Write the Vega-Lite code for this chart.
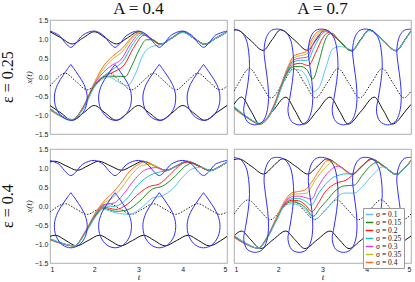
{
"$schema":"https://vega.github.io/schema/vega-lite/v6.json",
"padding":{"left":0,"right":0,"top":0,"bottom":0},
"background":"white",
"data":{"values":[
{"c":0,"r":0,"s":"u","t":1,"x":1.19},{"c":0,"r":0,"s":"u","t":1.25,"x":1.03},{"c":0,"r":0,"s":"u","t":1.5,"x":0.87},{"c":0,"r":0,"s":"u","t":1.75,"x":1.03},{"c":0,"r":0,"s":"u","t":2,"x":1.19},{"c":0,"r":0,"s":"u","t":2.25,"x":1.03},{"c":0,"r":0,"s":"u","t":2.5,"x":0.87},{"c":0,"r":0,"s":"u","t":2.75,"x":1.03},{"c":0,"r":0,"s":"u","t":3,"x":1.19},{"c":0,"r":0,"s":"u","t":3.25,"x":1.03},{"c":0,"r":0,"s":"u","t":3.5,"x":0.87},{"c":0,"r":0,"s":"u","t":3.75,"x":1.03},{"c":0,"r":0,"s":"u","t":4,"x":1.19},{"c":0,"r":0,"s":"u","t":4.25,"x":1.03},{"c":0,"r":0,"s":"u","t":4.5,"x":0.87},{"c":0,"r":0,"s":"u","t":4.75,"x":1.03},{"c":0,"r":0,"s":"u","t":5,"x":1.19},
{"c":0,"r":0,"s":"l","t":1,"x":-0.75},{"c":0,"r":0,"s":"l","t":1.25,"x":-0.95},{"c":0,"r":0,"s":"l","t":1.5,"x":-1.14},{"c":0,"r":0,"s":"l","t":1.75,"x":-0.95},{"c":0,"r":0,"s":"l","t":2,"x":-0.75},{"c":0,"r":0,"s":"l","t":2.25,"x":-0.95},{"c":0,"r":0,"s":"l","t":2.5,"x":-1.14},{"c":0,"r":0,"s":"l","t":2.75,"x":-0.95},{"c":0,"r":0,"s":"l","t":3,"x":-0.75},{"c":0,"r":0,"s":"l","t":3.25,"x":-0.95},{"c":0,"r":0,"s":"l","t":3.5,"x":-1.14},{"c":0,"r":0,"s":"l","t":3.75,"x":-0.95},{"c":0,"r":0,"s":"l","t":4,"x":-0.75},{"c":0,"r":0,"s":"l","t":4.25,"x":-0.95},{"c":0,"r":0,"s":"l","t":4.5,"x":-1.14},{"c":0,"r":0,"s":"l","t":4.75,"x":-0.95},{"c":0,"r":0,"s":"l","t":5,"x":-0.75},
{"c":0,"r":0,"s":"d","t":1,"x":-0.24},{"c":0,"r":0,"s":"d","t":1.09,"x":-0.12},{"c":0,"r":0,"s":"d","t":1.34,"x":0.1},{"c":0,"r":0,"s":"d","t":1.59,"x":-0.12},{"c":0,"r":0,"s":"d","t":1.84,"x":-0.34},{"c":0,"r":0,"s":"d","t":2.09,"x":-0.12},{"c":0,"r":0,"s":"d","t":2.34,"x":0.1},{"c":0,"r":0,"s":"d","t":2.59,"x":-0.12},{"c":0,"r":0,"s":"d","t":2.84,"x":-0.34},{"c":0,"r":0,"s":"d","t":3.09,"x":-0.12},{"c":0,"r":0,"s":"d","t":3.34,"x":0.1},{"c":0,"r":0,"s":"d","t":3.59,"x":-0.12},{"c":0,"r":0,"s":"d","t":3.84,"x":-0.34},{"c":0,"r":0,"s":"d","t":4.09,"x":-0.12},{"c":0,"r":0,"s":"d","t":4.34,"x":0.1},{"c":0,"r":0,"s":"d","t":4.59,"x":-0.12},{"c":0,"r":0,"s":"d","t":4.84,"x":-0.34},{"c":0,"r":0,"s":"d","t":5,"x":-0.24},
{"c":0,"r":0,"s":"b0","i":0,"t":1,"x":1.21},{"c":0,"r":0,"s":"b0","i":1,"t":1.2,"x":1.1},{"c":0,"r":0,"s":"b0","i":2,"t":1.36,"x":0.88},{"c":0,"r":0,"s":"b0","i":3,"t":1.47,"x":0.78},{"c":0,"r":0,"s":"b0","i":4,"t":1.58,"x":0.88},{"c":0,"r":0,"s":"b0","i":5,"t":1.74,"x":1.1},{"c":0,"r":0,"s":"b0","i":6,"t":2,"x":1.21},{"c":0,"r":0,"s":"b0","i":7,"t":2.2,"x":1.1},{"c":0,"r":0,"s":"b0","i":8,"t":2.36,"x":0.88},{"c":0,"r":0,"s":"b0","i":9,"t":2.47,"x":0.78},{"c":0,"r":0,"s":"b0","i":10,"t":2.58,"x":0.88},{"c":0,"r":0,"s":"b0","i":11,"t":2.74,"x":1.1},{"c":0,"r":0,"s":"b0","i":12,"t":3,"x":1.21},{"c":0,"r":0,"s":"b0","i":13,"t":3.2,"x":1.1},{"c":0,"r":0,"s":"b0","i":14,"t":3.36,"x":0.88},{"c":0,"r":0,"s":"b0","i":15,"t":3.47,"x":0.78},{"c":0,"r":0,"s":"b0","i":16,"t":3.58,"x":0.88},{"c":0,"r":0,"s":"b0","i":17,"t":3.74,"x":1.1},{"c":0,"r":0,"s":"b0","i":18,"t":4,"x":1.21},{"c":0,"r":0,"s":"b0","i":19,"t":4.2,"x":1.1},{"c":0,"r":0,"s":"b0","i":20,"t":4.36,"x":0.88},{"c":0,"r":0,"s":"b0","i":21,"t":4.47,"x":0.78},{"c":0,"r":0,"s":"b0","i":22,"t":4.58,"x":0.88},{"c":0,"r":0,"s":"b0","i":23,"t":4.74,"x":1.1},{"c":0,"r":0,"s":"b0","i":24,"t":5,"x":1.21},
{"c":0,"r":0,"s":"b1","i":0,"t":1.47,"x":0.33},{"c":0,"r":0,"s":"b1","i":1,"t":1.54,"x":0.22},{"c":0,"r":0,"s":"b1","i":2,"t":1.64,"x":0.05},{"c":0,"r":0,"s":"b1","i":3,"t":1.77,"x":-0.2},{"c":0,"r":0,"s":"b1","i":4,"t":1.84,"x":-0.5},{"c":0,"r":0,"s":"b1","i":5,"t":1.8,"x":-0.82},{"c":0,"r":0,"s":"b1","i":6,"t":1.65,"x":-1.06},{"c":0,"r":0,"s":"b1","i":7,"t":1.47,"x":-1.14},{"c":0,"r":0,"s":"b1","i":8,"t":1.29,"x":-1.06},{"c":0,"r":0,"s":"b1","i":9,"t":1.14,"x":-0.82},{"c":0,"r":0,"s":"b1","i":10,"t":1.1,"x":-0.5},{"c":0,"r":0,"s":"b1","i":11,"t":1.17,"x":-0.2},{"c":0,"r":0,"s":"b1","i":12,"t":1.3,"x":0.05},{"c":0,"r":0,"s":"b1","i":13,"t":1.4,"x":0.22},{"c":0,"r":0,"s":"b1","i":14,"t":1.47,"x":0.33},
{"c":0,"r":0,"s":"b2","i":0,"t":2.47,"x":0.33},{"c":0,"r":0,"s":"b2","i":1,"t":2.54,"x":0.22},{"c":0,"r":0,"s":"b2","i":2,"t":2.64,"x":0.05},{"c":0,"r":0,"s":"b2","i":3,"t":2.77,"x":-0.2},{"c":0,"r":0,"s":"b2","i":4,"t":2.84,"x":-0.5},{"c":0,"r":0,"s":"b2","i":5,"t":2.8,"x":-0.82},{"c":0,"r":0,"s":"b2","i":6,"t":2.65,"x":-1.06},{"c":0,"r":0,"s":"b2","i":7,"t":2.47,"x":-1.14},{"c":0,"r":0,"s":"b2","i":8,"t":2.29,"x":-1.06},{"c":0,"r":0,"s":"b2","i":9,"t":2.14,"x":-0.82},{"c":0,"r":0,"s":"b2","i":10,"t":2.1,"x":-0.5},{"c":0,"r":0,"s":"b2","i":11,"t":2.17,"x":-0.2},{"c":0,"r":0,"s":"b2","i":12,"t":2.3,"x":0.05},{"c":0,"r":0,"s":"b2","i":13,"t":2.4,"x":0.22},{"c":0,"r":0,"s":"b2","i":14,"t":2.47,"x":0.33},
{"c":0,"r":0,"s":"b3","i":0,"t":3.47,"x":0.33},{"c":0,"r":0,"s":"b3","i":1,"t":3.54,"x":0.22},{"c":0,"r":0,"s":"b3","i":2,"t":3.64,"x":0.05},{"c":0,"r":0,"s":"b3","i":3,"t":3.77,"x":-0.2},{"c":0,"r":0,"s":"b3","i":4,"t":3.84,"x":-0.5},{"c":0,"r":0,"s":"b3","i":5,"t":3.8,"x":-0.82},{"c":0,"r":0,"s":"b3","i":6,"t":3.65,"x":-1.06},{"c":0,"r":0,"s":"b3","i":7,"t":3.47,"x":-1.14},{"c":0,"r":0,"s":"b3","i":8,"t":3.29,"x":-1.06},{"c":0,"r":0,"s":"b3","i":9,"t":3.14,"x":-0.82},{"c":0,"r":0,"s":"b3","i":10,"t":3.1,"x":-0.5},{"c":0,"r":0,"s":"b3","i":11,"t":3.17,"x":-0.2},{"c":0,"r":0,"s":"b3","i":12,"t":3.3,"x":0.05},{"c":0,"r":0,"s":"b3","i":13,"t":3.4,"x":0.22},{"c":0,"r":0,"s":"b3","i":14,"t":3.47,"x":0.33},
{"c":0,"r":0,"s":"b4","i":0,"t":4.47,"x":0.33},{"c":0,"r":0,"s":"b4","i":1,"t":4.54,"x":0.22},{"c":0,"r":0,"s":"b4","i":2,"t":4.64,"x":0.05},{"c":0,"r":0,"s":"b4","i":3,"t":4.77,"x":-0.2},{"c":0,"r":0,"s":"b4","i":4,"t":4.84,"x":-0.5},{"c":0,"r":0,"s":"b4","i":5,"t":4.8,"x":-0.82},{"c":0,"r":0,"s":"b4","i":6,"t":4.65,"x":-1.06},{"c":0,"r":0,"s":"b4","i":7,"t":4.47,"x":-1.14},{"c":0,"r":0,"s":"b4","i":8,"t":4.29,"x":-1.06},{"c":0,"r":0,"s":"b4","i":9,"t":4.14,"x":-0.82},{"c":0,"r":0,"s":"b4","i":10,"t":4.1,"x":-0.5},{"c":0,"r":0,"s":"b4","i":11,"t":4.17,"x":-0.2},{"c":0,"r":0,"s":"b4","i":12,"t":4.3,"x":0.05},{"c":0,"r":0,"s":"b4","i":13,"t":4.4,"x":0.22},{"c":0,"r":0,"s":"b4","i":14,"t":4.47,"x":0.33},
{"c":0,"r":0,"s":"0.4","t":1,"x":-0.87},{"c":0,"r":0,"s":"0.4","t":1.25,"x":-1.04},{"c":0,"r":0,"s":"0.4","t":1.5,"x":-1.13},{"c":0,"r":0,"s":"0.4","t":1.75,"x":-0.78},{"c":0,"r":0,"s":"0.4","t":2,"x":-0.15},{"c":0,"r":0,"s":"0.4","t":2.23,"x":0.32},{"c":0,"r":0,"s":"0.4","t":2.41,"x":0.54},{"c":0,"r":0,"s":"0.4","t":2.64,"x":0.76},{"c":0,"r":0,"s":"0.4","t":2.83,"x":1.02},{"c":0,"r":0,"s":"0.4","t":3.02,"x":1.17},{"c":0,"r":0,"s":"0.4","t":3.25,"x":1.02},{"c":0,"r":0,"s":"0.4","t":3.5,"x":0.86},{"c":0,"r":0,"s":"0.4","t":3.75,"x":1.02},{"c":0,"r":0,"s":"0.4","t":4,"x":1.18},{"c":0,"r":0,"s":"0.4","t":4.25,"x":1.02},{"c":0,"r":0,"s":"0.4","t":4.5,"x":0.86},{"c":0,"r":0,"s":"0.4","t":4.75,"x":1.02},{"c":0,"r":0,"s":"0.4","t":5,"x":1.18},
{"c":0,"r":0,"s":"0.35","t":1,"x":-0.86},{"c":0,"r":0,"s":"0.35","t":1.25,"x":-1.04},{"c":0,"r":0,"s":"0.35","t":1.5,"x":-1.13},{"c":0,"r":0,"s":"0.35","t":1.75,"x":-0.79},{"c":0,"r":0,"s":"0.35","t":2,"x":-0.17},{"c":0,"r":0,"s":"0.35","t":2.25,"x":0.27},{"c":0,"r":0,"s":"0.35","t":2.41,"x":0.47},{"c":0,"r":0,"s":"0.35","t":2.64,"x":0.67},{"c":0,"r":0,"s":"0.35","t":2.86,"x":1.03},{"c":0,"r":0,"s":"0.35","t":3.05,"x":1.17},{"c":0,"r":0,"s":"0.35","t":3.25,"x":1.03},{"c":0,"r":0,"s":"0.35","t":3.5,"x":0.86},{"c":0,"r":0,"s":"0.35","t":3.75,"x":1.02},{"c":0,"r":0,"s":"0.35","t":4,"x":1.18},{"c":0,"r":0,"s":"0.35","t":4.25,"x":1.02},{"c":0,"r":0,"s":"0.35","t":4.5,"x":0.86},{"c":0,"r":0,"s":"0.35","t":4.75,"x":1.02},{"c":0,"r":0,"s":"0.35","t":5,"x":1.18},
{"c":0,"r":0,"s":"0.3","t":1,"x":-0.85},{"c":0,"r":0,"s":"0.3","t":1.25,"x":-1.03},{"c":0,"r":0,"s":"0.3","t":1.5,"x":-1.13},{"c":0,"r":0,"s":"0.3","t":1.75,"x":-0.8},{"c":0,"r":0,"s":"0.3","t":2,"x":-0.19},{"c":0,"r":0,"s":"0.3","t":2.26,"x":0.18},{"c":0,"r":0,"s":"0.3","t":2.41,"x":0.32},{"c":0,"r":0,"s":"0.3","t":2.6,"x":0.45},{"c":0,"r":0,"s":"0.3","t":2.83,"x":0.89},{"c":0,"r":0,"s":"0.3","t":3.05,"x":1.15},{"c":0,"r":0,"s":"0.3","t":3.25,"x":1.03},{"c":0,"r":0,"s":"0.3","t":3.5,"x":0.86},{"c":0,"r":0,"s":"0.3","t":3.75,"x":1.02},{"c":0,"r":0,"s":"0.3","t":4,"x":1.18},{"c":0,"r":0,"s":"0.3","t":4.25,"x":1.02},{"c":0,"r":0,"s":"0.3","t":4.5,"x":0.86},{"c":0,"r":0,"s":"0.3","t":4.75,"x":1.02},{"c":0,"r":0,"s":"0.3","t":5,"x":1.18},
{"c":0,"r":0,"s":"0.25","t":1,"x":-0.84},{"c":0,"r":0,"s":"0.25","t":1.25,"x":-1.03},{"c":0,"r":0,"s":"0.25","t":1.5,"x":-1.13},{"c":0,"r":0,"s":"0.25","t":1.75,"x":-0.81},{"c":0,"r":0,"s":"0.25","t":2,"x":-0.21},{"c":0,"r":0,"s":"0.25","t":2.3,"x":0.1},{"c":0,"r":0,"s":"0.25","t":2.45,"x":0.23},{"c":0,"r":0,"s":"0.25","t":2.64,"x":0.4},{"c":0,"r":0,"s":"0.25","t":2.86,"x":0.84},{"c":0,"r":0,"s":"0.25","t":3.09,"x":1.13},{"c":0,"r":0,"s":"0.25","t":3.25,"x":1.03},{"c":0,"r":0,"s":"0.25","t":3.5,"x":0.86},{"c":0,"r":0,"s":"0.25","t":3.75,"x":1.02},{"c":0,"r":0,"s":"0.25","t":4,"x":1.18},{"c":0,"r":0,"s":"0.25","t":4.25,"x":1.02},{"c":0,"r":0,"s":"0.25","t":4.5,"x":0.86},{"c":0,"r":0,"s":"0.25","t":4.75,"x":1.02},{"c":0,"r":0,"s":"0.25","t":5,"x":1.18},
{"c":0,"r":0,"s":"0.2","t":1,"x":-0.83},{"c":0,"r":0,"s":"0.2","t":1.25,"x":-1.02},{"c":0,"r":0,"s":"0.2","t":1.5,"x":-1.12},{"c":0,"r":0,"s":"0.2","t":1.75,"x":-0.82},{"c":0,"r":0,"s":"0.2","t":2,"x":-0.23},{"c":0,"r":0,"s":"0.2","t":2.3,"x":0.06},{"c":0,"r":0,"s":"0.2","t":2.49,"x":0.16},{"c":0,"r":0,"s":"0.2","t":2.68,"x":0.32},{"c":0,"r":0,"s":"0.2","t":2.88,"x":0.75},{"c":0,"r":0,"s":"0.2","t":3.13,"x":1.1},{"c":0,"r":0,"s":"0.2","t":3.3,"x":1.0},{"c":0,"r":0,"s":"0.2","t":3.5,"x":0.86},{"c":0,"r":0,"s":"0.2","t":3.75,"x":1.02},{"c":0,"r":0,"s":"0.2","t":4,"x":1.18},{"c":0,"r":0,"s":"0.2","t":4.25,"x":1.02},{"c":0,"r":0,"s":"0.2","t":4.5,"x":0.86},{"c":0,"r":0,"s":"0.2","t":4.75,"x":1.02},{"c":0,"r":0,"s":"0.2","t":5,"x":1.18},
{"c":0,"r":0,"s":"0.15","t":1,"x":-0.83},{"c":0,"r":0,"s":"0.15","t":1.25,"x":-1.02},{"c":0,"r":0,"s":"0.15","t":1.5,"x":-1.12},{"c":0,"r":0,"s":"0.15","t":1.75,"x":-0.83},{"c":0,"r":0,"s":"0.15","t":2,"x":-0.25},{"c":0,"r":0,"s":"0.15","t":2.3,"x":0.02},{"c":0,"r":0,"s":"0.15","t":2.5,"x":0.02},{"c":0,"r":0,"s":"0.15","t":2.7,"x":0.01},{"c":0,"r":0,"s":"0.15","t":2.85,"x":0.3},{"c":0,"r":0,"s":"0.15","t":3.03,"x":0.75},{"c":0,"r":0,"s":"0.15","t":3.18,"x":0.98},{"c":0,"r":0,"s":"0.15","t":3.32,"x":0.98},{"c":0,"r":0,"s":"0.15","t":3.5,"x":0.86},{"c":0,"r":0,"s":"0.15","t":3.75,"x":1.02},{"c":0,"r":0,"s":"0.15","t":4,"x":1.18},{"c":0,"r":0,"s":"0.15","t":4.25,"x":1.02},{"c":0,"r":0,"s":"0.15","t":4.5,"x":0.86},{"c":0,"r":0,"s":"0.15","t":4.75,"x":1.02},{"c":0,"r":0,"s":"0.15","t":5,"x":1.18},
{"c":0,"r":0,"s":"0.1","t":1,"x":-0.82},{"c":0,"r":0,"s":"0.1","t":1.25,"x":-1.02},{"c":0,"r":0,"s":"0.1","t":1.5,"x":-1.12},{"c":0,"r":0,"s":"0.1","t":1.75,"x":-0.84},{"c":0,"r":0,"s":"0.1","t":2,"x":-0.28},{"c":0,"r":0,"s":"0.1","t":2.34,"x":0.0},{"c":0,"r":0,"s":"0.1","t":2.53,"x":-0.12},{"c":0,"r":0,"s":"0.1","t":2.75,"x":-0.23},{"c":0,"r":0,"s":"0.1","t":2.92,"x":0.05},{"c":0,"r":0,"s":"0.1","t":3.1,"x":0.58},{"c":0,"r":0,"s":"0.1","t":3.3,"x":0.8},{"c":0,"r":0,"s":"0.1","t":3.5,"x":0.85},{"c":0,"r":0,"s":"0.1","t":3.75,"x":1.01},{"c":0,"r":0,"s":"0.1","t":4,"x":1.17},{"c":0,"r":0,"s":"0.1","t":4.25,"x":1.02},{"c":0,"r":0,"s":"0.1","t":4.5,"x":0.86},{"c":0,"r":0,"s":"0.1","t":4.75,"x":1.02},{"c":0,"r":0,"s":"0.1","t":5,"x":1.18},

{"c":1,"r":0,"s":"u","t":1,"x":1.23},{"c":1,"r":0,"s":"u","t":1.05,"x":1.24},{"c":1,"r":0,"s":"u","t":1.36,"x":0.98},{"c":1,"r":0,"s":"u","t":1.66,"x":0.7},{"c":1,"r":0,"s":"u","t":1.86,"x":0.98},{"c":1,"r":0,"s":"u","t":2.05,"x":1.24},{"c":1,"r":0,"s":"u","t":2.36,"x":0.98},{"c":1,"r":0,"s":"u","t":2.66,"x":0.7},{"c":1,"r":0,"s":"u","t":2.86,"x":0.98},{"c":1,"r":0,"s":"u","t":3.05,"x":1.24},{"c":1,"r":0,"s":"u","t":3.36,"x":0.98},{"c":1,"r":0,"s":"u","t":3.66,"x":0.7},{"c":1,"r":0,"s":"u","t":3.86,"x":0.98},{"c":1,"r":0,"s":"u","t":4.05,"x":1.24},{"c":1,"r":0,"s":"u","t":4.36,"x":0.98},{"c":1,"r":0,"s":"u","t":4.66,"x":0.7},{"c":1,"r":0,"s":"u","t":4.86,"x":0.98},{"c":1,"r":0,"s":"u","t":5,"x":1.22},
{"c":1,"r":0,"s":"l","t":1,"x":-0.72},{"c":1,"r":0,"s":"l","t":1.17,"x":-0.53},{"c":1,"r":0,"s":"l","t":1.38,"x":-0.89},{"c":1,"r":0,"s":"l","t":1.58,"x":-1.24},{"c":1,"r":0,"s":"l","t":1.88,"x":-0.89},{"c":1,"r":0,"s":"l","t":2.17,"x":-0.53},{"c":1,"r":0,"s":"l","t":2.38,"x":-0.89},{"c":1,"r":0,"s":"l","t":2.58,"x":-1.24},{"c":1,"r":0,"s":"l","t":2.88,"x":-0.89},{"c":1,"r":0,"s":"l","t":3.17,"x":-0.53},{"c":1,"r":0,"s":"l","t":3.38,"x":-0.89},{"c":1,"r":0,"s":"l","t":3.58,"x":-1.24},{"c":1,"r":0,"s":"l","t":3.88,"x":-0.89},{"c":1,"r":0,"s":"l","t":4.17,"x":-0.53},{"c":1,"r":0,"s":"l","t":4.38,"x":-0.89},{"c":1,"r":0,"s":"l","t":4.58,"x":-1.24},{"c":1,"r":0,"s":"l","t":4.88,"x":-0.89},{"c":1,"r":0,"s":"l","t":5,"x":-0.72},
{"c":1,"r":0,"s":"d","t":1,"x":-0.37},{"c":1,"r":0,"s":"d","t":1.1,"x":-0.17},{"c":1,"r":0,"s":"d","t":1.35,"x":0.22},{"c":1,"r":0,"s":"d","t":1.6,"x":-0.17},{"c":1,"r":0,"s":"d","t":1.84,"x":-0.55},{"c":1,"r":0,"s":"d","t":2.1,"x":-0.17},{"c":1,"r":0,"s":"d","t":2.35,"x":0.22},{"c":1,"r":0,"s":"d","t":2.6,"x":-0.17},{"c":1,"r":0,"s":"d","t":2.84,"x":-0.55},{"c":1,"r":0,"s":"d","t":3.1,"x":-0.17},{"c":1,"r":0,"s":"d","t":3.35,"x":0.22},{"c":1,"r":0,"s":"d","t":3.6,"x":-0.17},{"c":1,"r":0,"s":"d","t":3.84,"x":-0.55},{"c":1,"r":0,"s":"d","t":4.1,"x":-0.17},{"c":1,"r":0,"s":"d","t":4.35,"x":0.22},{"c":1,"r":0,"s":"d","t":4.6,"x":-0.17},{"c":1,"r":0,"s":"d","t":4.84,"x":-0.55},{"c":1,"r":0,"s":"d","t":5,"x":-0.37},
{"c":1,"r":0,"s":"b0","i":0,"t":1,"x":1.26},{"c":1,"r":0,"s":"b0","i":1,"t":1.15,"x":1.2},{"c":1,"r":0,"s":"b0","i":2,"t":1.27,"x":1.0},{"c":1,"r":0,"s":"b0","i":3,"t":1.33,"x":0.68},{"c":1,"r":0,"s":"b0","i":4,"t":1.35,"x":0.3},{"c":1,"r":0,"s":"b0","i":5,"t":1.32,"x":-0.12},{"c":1,"r":0,"s":"b0","i":6,"t":1.26,"x":-0.56},{"c":1,"r":0,"s":"b0","i":7,"t":1.22,"x":-0.9},{"c":1,"r":0,"s":"b0","i":8,"t":1.3,"x":-1.17},{"c":1,"r":0,"s":"b0","i":9,"t":1.47,"x":-1.26},{"c":1,"r":0,"s":"b0","i":10,"t":1.64,"x":-1.18},{"c":1,"r":0,"s":"b0","i":11,"t":1.74,"x":-0.94},{"c":1,"r":0,"s":"b0","i":12,"t":1.78,"x":-0.56},{"c":1,"r":0,"s":"b0","i":13,"t":1.76,"x":-0.12},{"c":1,"r":0,"s":"b0","i":14,"t":1.71,"x":0.32},{"c":1,"r":0,"s":"b0","i":15,"t":1.68,"x":0.72},{"c":1,"r":0,"s":"b0","i":16,"t":1.74,"x":1.07},{"c":1,"r":0,"s":"b0","i":17,"t":1.85,"x":1.23},
{"c":1,"r":0,"s":"b0","i":18,"t":2,"x":1.26},{"c":1,"r":0,"s":"b0","i":19,"t":2.15,"x":1.2},{"c":1,"r":0,"s":"b0","i":20,"t":2.27,"x":1.0},{"c":1,"r":0,"s":"b0","i":21,"t":2.33,"x":0.68},{"c":1,"r":0,"s":"b0","i":22,"t":2.35,"x":0.3},{"c":1,"r":0,"s":"b0","i":23,"t":2.32,"x":-0.12},{"c":1,"r":0,"s":"b0","i":24,"t":2.26,"x":-0.56},{"c":1,"r":0,"s":"b0","i":25,"t":2.22,"x":-0.9},{"c":1,"r":0,"s":"b0","i":26,"t":2.3,"x":-1.17},{"c":1,"r":0,"s":"b0","i":27,"t":2.47,"x":-1.26},{"c":1,"r":0,"s":"b0","i":28,"t":2.64,"x":-1.18},{"c":1,"r":0,"s":"b0","i":29,"t":2.74,"x":-0.94},{"c":1,"r":0,"s":"b0","i":30,"t":2.78,"x":-0.56},{"c":1,"r":0,"s":"b0","i":31,"t":2.76,"x":-0.12},{"c":1,"r":0,"s":"b0","i":32,"t":2.71,"x":0.32},{"c":1,"r":0,"s":"b0","i":33,"t":2.68,"x":0.72},{"c":1,"r":0,"s":"b0","i":34,"t":2.74,"x":1.07},{"c":1,"r":0,"s":"b0","i":35,"t":2.85,"x":1.23},
{"c":1,"r":0,"s":"b0","i":36,"t":3,"x":1.26},{"c":1,"r":0,"s":"b0","i":37,"t":3.15,"x":1.2},{"c":1,"r":0,"s":"b0","i":38,"t":3.27,"x":1.0},{"c":1,"r":0,"s":"b0","i":39,"t":3.33,"x":0.68},{"c":1,"r":0,"s":"b0","i":40,"t":3.35,"x":0.3},{"c":1,"r":0,"s":"b0","i":41,"t":3.32,"x":-0.12},{"c":1,"r":0,"s":"b0","i":42,"t":3.26,"x":-0.56},{"c":1,"r":0,"s":"b0","i":43,"t":3.22,"x":-0.9},{"c":1,"r":0,"s":"b0","i":44,"t":3.3,"x":-1.17},{"c":1,"r":0,"s":"b0","i":45,"t":3.47,"x":-1.26},{"c":1,"r":0,"s":"b0","i":46,"t":3.64,"x":-1.18},{"c":1,"r":0,"s":"b0","i":47,"t":3.74,"x":-0.94},{"c":1,"r":0,"s":"b0","i":48,"t":3.78,"x":-0.56},{"c":1,"r":0,"s":"b0","i":49,"t":3.76,"x":-0.12},{"c":1,"r":0,"s":"b0","i":50,"t":3.71,"x":0.32},{"c":1,"r":0,"s":"b0","i":51,"t":3.68,"x":0.72},{"c":1,"r":0,"s":"b0","i":52,"t":3.74,"x":1.07},{"c":1,"r":0,"s":"b0","i":53,"t":3.85,"x":1.23},
{"c":1,"r":0,"s":"b0","i":54,"t":4,"x":1.26},{"c":1,"r":0,"s":"b0","i":55,"t":4.15,"x":1.2},{"c":1,"r":0,"s":"b0","i":56,"t":4.27,"x":1.0},{"c":1,"r":0,"s":"b0","i":57,"t":4.33,"x":0.68},{"c":1,"r":0,"s":"b0","i":58,"t":4.35,"x":0.3},{"c":1,"r":0,"s":"b0","i":59,"t":4.32,"x":-0.12},{"c":1,"r":0,"s":"b0","i":60,"t":4.26,"x":-0.56},{"c":1,"r":0,"s":"b0","i":61,"t":4.22,"x":-0.9},{"c":1,"r":0,"s":"b0","i":62,"t":4.3,"x":-1.17},{"c":1,"r":0,"s":"b0","i":63,"t":4.47,"x":-1.26},{"c":1,"r":0,"s":"b0","i":64,"t":4.64,"x":-1.18},{"c":1,"r":0,"s":"b0","i":65,"t":4.74,"x":-0.94},{"c":1,"r":0,"s":"b0","i":66,"t":4.78,"x":-0.56},{"c":1,"r":0,"s":"b0","i":67,"t":4.76,"x":-0.12},{"c":1,"r":0,"s":"b0","i":68,"t":4.71,"x":0.32},{"c":1,"r":0,"s":"b0","i":69,"t":4.68,"x":0.72},{"c":1,"r":0,"s":"b0","i":70,"t":4.74,"x":1.07},{"c":1,"r":0,"s":"b0","i":71,"t":4.85,"x":1.23},{"c":1,"r":0,"s":"b0","i":72,"t":5,"x":1.26},
{"c":1,"r":0,"s":"0.4","t":1,"x":-0.84},{"c":1,"r":0,"s":"0.4","t":1.29,"x":-1.07},{"c":1,"r":0,"s":"0.4","t":1.59,"x":-1.24},{"c":1,"r":0,"s":"0.4","t":1.78,"x":-1.02},{"c":1,"r":0,"s":"0.4","t":1.93,"x":-0.65},{"c":1,"r":0,"s":"0.4","t":2.08,"x":-0.15},{"c":1,"r":0,"s":"0.4","t":2.23,"x":0.3},{"c":1,"r":0,"s":"0.4","t":2.35,"x":0.55},{"c":1,"r":0,"s":"0.4","t":2.5,"x":0.62},{"c":1,"r":0,"s":"0.4","t":2.62,"x":0.66},{"c":1,"r":0,"s":"0.4","t":2.75,"x":0.98},{"c":1,"r":0,"s":"0.4","t":2.88,"x":1.18},{"c":1,"r":0,"s":"0.4","t":3.02,"x":1.24},{"c":1,"r":0,"s":"0.4","t":3.36,"x":0.97},{"c":1,"r":0,"s":"0.4","t":3.66,"x":0.69},{"c":1,"r":0,"s":"0.4","t":3.86,"x":0.97},{"c":1,"r":0,"s":"0.4","t":4.05,"x":1.23},{"c":1,"r":0,"s":"0.4","t":4.36,"x":0.97},{"c":1,"r":0,"s":"0.4","t":4.66,"x":0.69},{"c":1,"r":0,"s":"0.4","t":4.86,"x":0.97},{"c":1,"r":0,"s":"0.4","t":5,"x":1.21},
{"c":1,"r":0,"s":"0.35","t":1,"x":-0.82},{"c":1,"r":0,"s":"0.35","t":1.29,"x":-1.07},{"c":1,"r":0,"s":"0.35","t":1.59,"x":-1.24},{"c":1,"r":0,"s":"0.35","t":1.78,"x":-1.03},{"c":1,"r":0,"s":"0.35","t":1.93,"x":-0.67},{"c":1,"r":0,"s":"0.35","t":2.08,"x":-0.17},{"c":1,"r":0,"s":"0.35","t":2.23,"x":0.27},{"c":1,"r":0,"s":"0.35","t":2.35,"x":0.5},{"c":1,"r":0,"s":"0.35","t":2.5,"x":0.56},{"c":1,"r":0,"s":"0.35","t":2.64,"x":0.6},{"c":1,"r":0,"s":"0.35","t":2.78,"x":0.96},{"c":1,"r":0,"s":"0.35","t":2.92,"x":1.17},{"c":1,"r":0,"s":"0.35","t":3.05,"x":1.23},{"c":1,"r":0,"s":"0.35","t":3.36,"x":0.97},{"c":1,"r":0,"s":"0.35","t":3.66,"x":0.69},{"c":1,"r":0,"s":"0.35","t":3.86,"x":0.97},{"c":1,"r":0,"s":"0.35","t":4.05,"x":1.23},{"c":1,"r":0,"s":"0.35","t":4.36,"x":0.97},{"c":1,"r":0,"s":"0.35","t":4.66,"x":0.69},{"c":1,"r":0,"s":"0.35","t":4.86,"x":0.97},{"c":1,"r":0,"s":"0.35","t":5,"x":1.21},
{"c":1,"r":0,"s":"0.3","t":1,"x":-0.81},{"c":1,"r":0,"s":"0.3","t":1.29,"x":-1.06},{"c":1,"r":0,"s":"0.3","t":1.59,"x":-1.23},{"c":1,"r":0,"s":"0.3","t":1.78,"x":-1.04},{"c":1,"r":0,"s":"0.3","t":1.93,"x":-0.69},{"c":1,"r":0,"s":"0.3","t":2.08,"x":-0.19},{"c":1,"r":0,"s":"0.3","t":2.23,"x":0.24},{"c":1,"r":0,"s":"0.3","t":2.35,"x":0.45},{"c":1,"r":0,"s":"0.3","t":2.5,"x":0.5},{"c":1,"r":0,"s":"0.3","t":2.65,"x":0.52},{"c":1,"r":0,"s":"0.3","t":2.8,"x":0.9},{"c":1,"r":0,"s":"0.3","t":2.95,"x":1.15},{"c":1,"r":0,"s":"0.3","t":3.07,"x":1.21},{"c":1,"r":0,"s":"0.3","t":3.36,"x":0.97},{"c":1,"r":0,"s":"0.3","t":3.66,"x":0.69},{"c":1,"r":0,"s":"0.3","t":3.86,"x":0.97},{"c":1,"r":0,"s":"0.3","t":4.05,"x":1.23},{"c":1,"r":0,"s":"0.3","t":4.36,"x":0.97},{"c":1,"r":0,"s":"0.3","t":4.66,"x":0.69},{"c":1,"r":0,"s":"0.3","t":4.86,"x":0.97},{"c":1,"r":0,"s":"0.3","t":5,"x":1.21},
{"c":1,"r":0,"s":"0.25","t":1,"x":-0.8},{"c":1,"r":0,"s":"0.25","t":1.29,"x":-1.06},{"c":1,"r":0,"s":"0.25","t":1.59,"x":-1.23},{"c":1,"r":0,"s":"0.25","t":1.78,"x":-1.05},{"c":1,"r":0,"s":"0.25","t":1.93,"x":-0.7},{"c":1,"r":0,"s":"0.25","t":2.08,"x":-0.2},{"c":1,"r":0,"s":"0.25","t":2.23,"x":0.21},{"c":1,"r":0,"s":"0.25","t":2.35,"x":0.4},{"c":1,"r":0,"s":"0.25","t":2.5,"x":0.44},{"c":1,"r":0,"s":"0.25","t":2.66,"x":0.44},{"c":1,"r":0,"s":"0.25","t":2.82,"x":0.8},{"c":1,"r":0,"s":"0.25","t":2.98,"x":1.12},{"c":1,"r":0,"s":"0.25","t":3.1,"x":1.2},{"c":1,"r":0,"s":"0.25","t":3.36,"x":0.97},{"c":1,"r":0,"s":"0.25","t":3.66,"x":0.69},{"c":1,"r":0,"s":"0.25","t":3.86,"x":0.97},{"c":1,"r":0,"s":"0.25","t":4.05,"x":1.23},{"c":1,"r":0,"s":"0.25","t":4.36,"x":0.97},{"c":1,"r":0,"s":"0.25","t":4.66,"x":0.69},{"c":1,"r":0,"s":"0.25","t":4.86,"x":0.97},{"c":1,"r":0,"s":"0.25","t":5,"x":1.21},
{"c":1,"r":0,"s":"0.2","t":1,"x":-0.79},{"c":1,"r":0,"s":"0.2","t":1.29,"x":-1.05},{"c":1,"r":0,"s":"0.2","t":1.59,"x":-1.23},{"c":1,"r":0,"s":"0.2","t":1.78,"x":-1.05},{"c":1,"r":0,"s":"0.2","t":1.93,"x":-0.71},{"c":1,"r":0,"s":"0.2","t":2.08,"x":-0.22},{"c":1,"r":0,"s":"0.2","t":2.23,"x":0.18},{"c":1,"r":0,"s":"0.2","t":2.35,"x":0.33},{"c":1,"r":0,"s":"0.2","t":2.5,"x":0.36},{"c":1,"r":0,"s":"0.2","t":2.68,"x":0.3},{"c":1,"r":0,"s":"0.2","t":2.85,"x":0.65},{"c":1,"r":0,"s":"0.2","t":3,"x":1.02},{"c":1,"r":0,"s":"0.2","t":3.13,"x":1.17},{"c":1,"r":0,"s":"0.2","t":3.36,"x":0.97},{"c":1,"r":0,"s":"0.2","t":3.66,"x":0.69},{"c":1,"r":0,"s":"0.2","t":3.86,"x":0.97},{"c":1,"r":0,"s":"0.2","t":4.05,"x":1.23},{"c":1,"r":0,"s":"0.2","t":4.36,"x":0.97},{"c":1,"r":0,"s":"0.2","t":4.66,"x":0.69},{"c":1,"r":0,"s":"0.2","t":4.86,"x":0.97},{"c":1,"r":0,"s":"0.2","t":5,"x":1.21},
{"c":1,"r":0,"s":"0.15","t":1,"x":-0.78},{"c":1,"r":0,"s":"0.15","t":1.29,"x":-1.05},{"c":1,"r":0,"s":"0.15","t":1.59,"x":-1.22},{"c":1,"r":0,"s":"0.15","t":1.78,"x":-1.06},{"c":1,"r":0,"s":"0.15","t":1.93,"x":-0.72},{"c":1,"r":0,"s":"0.15","t":2.08,"x":-0.24},{"c":1,"r":0,"s":"0.15","t":2.23,"x":0.15},{"c":1,"r":0,"s":"0.15","t":2.35,"x":0.27},{"c":1,"r":0,"s":"0.15","t":2.5,"x":0.28},{"c":1,"r":0,"s":"0.15","t":2.64,"x":0.2},{"c":1,"r":0,"s":"0.15","t":2.78,"x":-0.05},{"c":1,"r":0,"s":"0.15","t":2.93,"x":0.44},{"c":1,"r":0,"s":"0.15","t":3.02,"x":0.83},{"c":1,"r":0,"s":"0.15","t":3.12,"x":1.1},{"c":1,"r":0,"s":"0.15","t":3.22,"x":1.15},{"c":1,"r":0,"s":"0.15","t":3.36,"x":0.97},{"c":1,"r":0,"s":"0.15","t":3.66,"x":0.69},{"c":1,"r":0,"s":"0.15","t":3.86,"x":0.97},{"c":1,"r":0,"s":"0.15","t":4.05,"x":1.23},{"c":1,"r":0,"s":"0.15","t":4.36,"x":0.97},{"c":1,"r":0,"s":"0.15","t":4.66,"x":0.69},{"c":1,"r":0,"s":"0.15","t":4.86,"x":0.97},{"c":1,"r":0,"s":"0.15","t":5,"x":1.21},
{"c":1,"r":0,"s":"0.1","t":1,"x":-0.77},{"c":1,"r":0,"s":"0.1","t":1.29,"x":-1.04},{"c":1,"r":0,"s":"0.1","t":1.59,"x":-1.22},{"c":1,"r":0,"s":"0.1","t":1.78,"x":-1.06},{"c":1,"r":0,"s":"0.1","t":1.93,"x":-0.73},{"c":1,"r":0,"s":"0.1","t":2.08,"x":-0.26},{"c":1,"r":0,"s":"0.1","t":2.23,"x":0.12},{"c":1,"r":0,"s":"0.1","t":2.35,"x":0.2},{"c":1,"r":0,"s":"0.1","t":2.5,"x":0.18},{"c":1,"r":0,"s":"0.1","t":2.64,"x":0.0},{"c":1,"r":0,"s":"0.1","t":2.79,"x":-0.39},{"c":1,"r":0,"s":"0.1","t":2.93,"x":-0.26},{"c":1,"r":0,"s":"0.1","t":3.08,"x":0.26},{"c":1,"r":0,"s":"0.1","t":3.23,"x":0.74},{"c":1,"r":0,"s":"0.1","t":3.4,"x":0.8},{"c":1,"r":0,"s":"0.1","t":3.55,"x":0.76},{"c":1,"r":0,"s":"0.1","t":3.68,"x":0.71},{"c":1,"r":0,"s":"0.1","t":3.86,"x":0.96},{"c":1,"r":0,"s":"0.1","t":4.05,"x":1.22},{"c":1,"r":0,"s":"0.1","t":4.36,"x":0.97},{"c":1,"r":0,"s":"0.1","t":4.66,"x":0.69},{"c":1,"r":0,"s":"0.1","t":4.86,"x":0.97},{"c":1,"r":0,"s":"0.1","t":5,"x":1.2},

{"c":0,"r":1,"s":"u","t":1,"x":1.16},{"c":0,"r":1,"s":"u","t":1.1,"x":1.18},{"c":0,"r":1,"s":"u","t":1.36,"x":1.06},{"c":0,"r":1,"s":"u","t":1.62,"x":0.94},{"c":0,"r":1,"s":"u","t":1.86,"x":1.06},{"c":0,"r":1,"s":"u","t":2.1,"x":1.18},{"c":0,"r":1,"s":"u","t":2.36,"x":1.06},{"c":0,"r":1,"s":"u","t":2.62,"x":0.94},{"c":0,"r":1,"s":"u","t":2.86,"x":1.06},{"c":0,"r":1,"s":"u","t":3.1,"x":1.18},{"c":0,"r":1,"s":"u","t":3.36,"x":1.06},{"c":0,"r":1,"s":"u","t":3.62,"x":0.94},{"c":0,"r":1,"s":"u","t":3.86,"x":1.06},{"c":0,"r":1,"s":"u","t":4.1,"x":1.18},{"c":0,"r":1,"s":"u","t":4.36,"x":1.06},{"c":0,"r":1,"s":"u","t":4.62,"x":0.94},{"c":0,"r":1,"s":"u","t":4.86,"x":1.06},{"c":0,"r":1,"s":"u","t":5,"x":1.16},
{"c":0,"r":1,"s":"l","t":1,"x":-0.8},{"c":0,"r":1,"s":"l","t":1.12,"x":-0.77},{"c":0,"r":1,"s":"l","t":1.36,"x":-0.91},{"c":0,"r":1,"s":"l","t":1.6,"x":-1.05},{"c":0,"r":1,"s":"l","t":1.86,"x":-0.91},{"c":0,"r":1,"s":"l","t":2.12,"x":-0.77},{"c":0,"r":1,"s":"l","t":2.36,"x":-0.91},{"c":0,"r":1,"s":"l","t":2.6,"x":-1.05},{"c":0,"r":1,"s":"l","t":2.86,"x":-0.91},{"c":0,"r":1,"s":"l","t":3.12,"x":-0.77},{"c":0,"r":1,"s":"l","t":3.36,"x":-0.91},{"c":0,"r":1,"s":"l","t":3.6,"x":-1.05},{"c":0,"r":1,"s":"l","t":3.86,"x":-0.91},{"c":0,"r":1,"s":"l","t":4.12,"x":-0.77},{"c":0,"r":1,"s":"l","t":4.36,"x":-0.91},{"c":0,"r":1,"s":"l","t":4.6,"x":-1.05},{"c":0,"r":1,"s":"l","t":4.86,"x":-0.91},{"c":0,"r":1,"s":"l","t":5,"x":-0.8},
{"c":0,"r":1,"s":"d","t":1,"x":-0.16},{"c":0,"r":1,"s":"d","t":1.09,"x":-0.08},{"c":0,"r":1,"s":"d","t":1.34,"x":0.06},{"c":0,"r":1,"s":"d","t":1.59,"x":-0.08},{"c":0,"r":1,"s":"d","t":1.84,"x":-0.22},{"c":0,"r":1,"s":"d","t":2.09,"x":-0.08},{"c":0,"r":1,"s":"d","t":2.34,"x":0.06},{"c":0,"r":1,"s":"d","t":2.59,"x":-0.08},{"c":0,"r":1,"s":"d","t":2.84,"x":-0.22},{"c":0,"r":1,"s":"d","t":3.09,"x":-0.08},{"c":0,"r":1,"s":"d","t":3.34,"x":0.06},{"c":0,"r":1,"s":"d","t":3.59,"x":-0.08},{"c":0,"r":1,"s":"d","t":3.84,"x":-0.22},{"c":0,"r":1,"s":"d","t":4.09,"x":-0.08},{"c":0,"r":1,"s":"d","t":4.34,"x":0.06},{"c":0,"r":1,"s":"d","t":4.59,"x":-0.08},{"c":0,"r":1,"s":"d","t":4.84,"x":-0.22},{"c":0,"r":1,"s":"d","t":5,"x":-0.16},
{"c":0,"r":1,"s":"b0","i":0,"t":1,"x":1.2},{"c":0,"r":1,"s":"b0","i":1,"t":1.2,"x":1.1},{"c":0,"r":1,"s":"b0","i":2,"t":1.36,"x":0.89},{"c":0,"r":1,"s":"b0","i":3,"t":1.47,"x":0.8},{"c":0,"r":1,"s":"b0","i":4,"t":1.58,"x":0.89},{"c":0,"r":1,"s":"b0","i":5,"t":1.74,"x":1.1},{"c":0,"r":1,"s":"b0","i":6,"t":2,"x":1.2},{"c":0,"r":1,"s":"b0","i":7,"t":2.2,"x":1.1},{"c":0,"r":1,"s":"b0","i":8,"t":2.36,"x":0.89},{"c":0,"r":1,"s":"b0","i":9,"t":2.47,"x":0.8},{"c":0,"r":1,"s":"b0","i":10,"t":2.58,"x":0.89},{"c":0,"r":1,"s":"b0","i":11,"t":2.74,"x":1.1},{"c":0,"r":1,"s":"b0","i":12,"t":3,"x":1.2},{"c":0,"r":1,"s":"b0","i":13,"t":3.2,"x":1.1},{"c":0,"r":1,"s":"b0","i":14,"t":3.36,"x":0.89},{"c":0,"r":1,"s":"b0","i":15,"t":3.47,"x":0.8},{"c":0,"r":1,"s":"b0","i":16,"t":3.58,"x":0.89},{"c":0,"r":1,"s":"b0","i":17,"t":3.74,"x":1.1},{"c":0,"r":1,"s":"b0","i":18,"t":4,"x":1.2},{"c":0,"r":1,"s":"b0","i":19,"t":4.2,"x":1.1},{"c":0,"r":1,"s":"b0","i":20,"t":4.36,"x":0.89},{"c":0,"r":1,"s":"b0","i":21,"t":4.47,"x":0.8},{"c":0,"r":1,"s":"b0","i":22,"t":4.58,"x":0.89},{"c":0,"r":1,"s":"b0","i":23,"t":4.74,"x":1.1},{"c":0,"r":1,"s":"b0","i":24,"t":5,"x":1.2},
{"c":0,"r":1,"s":"b1","i":0,"t":1.47,"x":0.35},{"c":0,"r":1,"s":"b1","i":1,"t":1.54,"x":0.24},{"c":0,"r":1,"s":"b1","i":2,"t":1.64,"x":0.07},{"c":0,"r":1,"s":"b1","i":3,"t":1.77,"x":-0.18},{"c":0,"r":1,"s":"b1","i":4,"t":1.84,"x":-0.48},{"c":0,"r":1,"s":"b1","i":5,"t":1.8,"x":-0.8},{"c":0,"r":1,"s":"b1","i":6,"t":1.65,"x":-1.03},{"c":0,"r":1,"s":"b1","i":7,"t":1.47,"x":-1.1},{"c":0,"r":1,"s":"b1","i":8,"t":1.29,"x":-1.03},{"c":0,"r":1,"s":"b1","i":9,"t":1.14,"x":-0.8},{"c":0,"r":1,"s":"b1","i":10,"t":1.1,"x":-0.48},{"c":0,"r":1,"s":"b1","i":11,"t":1.17,"x":-0.18},{"c":0,"r":1,"s":"b1","i":12,"t":1.3,"x":0.07},{"c":0,"r":1,"s":"b1","i":13,"t":1.4,"x":0.24},{"c":0,"r":1,"s":"b1","i":14,"t":1.47,"x":0.35},
{"c":0,"r":1,"s":"b2","i":0,"t":2.47,"x":0.35},{"c":0,"r":1,"s":"b2","i":1,"t":2.54,"x":0.24},{"c":0,"r":1,"s":"b2","i":2,"t":2.64,"x":0.07},{"c":0,"r":1,"s":"b2","i":3,"t":2.77,"x":-0.18},{"c":0,"r":1,"s":"b2","i":4,"t":2.84,"x":-0.48},{"c":0,"r":1,"s":"b2","i":5,"t":2.8,"x":-0.8},{"c":0,"r":1,"s":"b2","i":6,"t":2.65,"x":-1.03},{"c":0,"r":1,"s":"b2","i":7,"t":2.47,"x":-1.1},{"c":0,"r":1,"s":"b2","i":8,"t":2.29,"x":-1.03},{"c":0,"r":1,"s":"b2","i":9,"t":2.14,"x":-0.8},{"c":0,"r":1,"s":"b2","i":10,"t":2.1,"x":-0.48},{"c":0,"r":1,"s":"b2","i":11,"t":2.17,"x":-0.18},{"c":0,"r":1,"s":"b2","i":12,"t":2.3,"x":0.07},{"c":0,"r":1,"s":"b2","i":13,"t":2.4,"x":0.24},{"c":0,"r":1,"s":"b2","i":14,"t":2.47,"x":0.35},
{"c":0,"r":1,"s":"b3","i":0,"t":3.47,"x":0.35},{"c":0,"r":1,"s":"b3","i":1,"t":3.54,"x":0.24},{"c":0,"r":1,"s":"b3","i":2,"t":3.64,"x":0.07},{"c":0,"r":1,"s":"b3","i":3,"t":3.77,"x":-0.18},{"c":0,"r":1,"s":"b3","i":4,"t":3.84,"x":-0.48},{"c":0,"r":1,"s":"b3","i":5,"t":3.8,"x":-0.8},{"c":0,"r":1,"s":"b3","i":6,"t":3.65,"x":-1.03},{"c":0,"r":1,"s":"b3","i":7,"t":3.47,"x":-1.1},{"c":0,"r":1,"s":"b3","i":8,"t":3.29,"x":-1.03},{"c":0,"r":1,"s":"b3","i":9,"t":3.14,"x":-0.8},{"c":0,"r":1,"s":"b3","i":10,"t":3.1,"x":-0.48},{"c":0,"r":1,"s":"b3","i":11,"t":3.17,"x":-0.18},{"c":0,"r":1,"s":"b3","i":12,"t":3.3,"x":0.07},{"c":0,"r":1,"s":"b3","i":13,"t":3.4,"x":0.24},{"c":0,"r":1,"s":"b3","i":14,"t":3.47,"x":0.35},
{"c":0,"r":1,"s":"b4","i":0,"t":4.47,"x":0.35},{"c":0,"r":1,"s":"b4","i":1,"t":4.54,"x":0.24},{"c":0,"r":1,"s":"b4","i":2,"t":4.64,"x":0.07},{"c":0,"r":1,"s":"b4","i":3,"t":4.77,"x":-0.18},{"c":0,"r":1,"s":"b4","i":4,"t":4.84,"x":-0.48},{"c":0,"r":1,"s":"b4","i":5,"t":4.8,"x":-0.8},{"c":0,"r":1,"s":"b4","i":6,"t":4.65,"x":-1.03},{"c":0,"r":1,"s":"b4","i":7,"t":4.47,"x":-1.1},{"c":0,"r":1,"s":"b4","i":8,"t":4.29,"x":-1.03},{"c":0,"r":1,"s":"b4","i":9,"t":4.14,"x":-0.8},{"c":0,"r":1,"s":"b4","i":10,"t":4.1,"x":-0.48},{"c":0,"r":1,"s":"b4","i":11,"t":4.17,"x":-0.18},{"c":0,"r":1,"s":"b4","i":12,"t":4.3,"x":0.07},{"c":0,"r":1,"s":"b4","i":13,"t":4.4,"x":0.24},{"c":0,"r":1,"s":"b4","i":14,"t":4.47,"x":0.35},
{"c":0,"r":1,"s":"0.4","t":1,"x":-0.89},{"c":0,"r":1,"s":"0.4","t":1.25,"x":-0.99},{"c":0,"r":1,"s":"0.4","t":1.55,"x":-1.05},{"c":0,"r":1,"s":"0.4","t":1.8,"x":-0.66},{"c":0,"r":1,"s":"0.4","t":2.04,"x":-0.15},{"c":0,"r":1,"s":"0.4","t":2.2,"x":0.1},{"c":0,"r":1,"s":"0.4","t":2.41,"x":0.34},{"c":0,"r":1,"s":"0.4","t":2.6,"x":0.6},{"c":0,"r":1,"s":"0.4","t":2.79,"x":0.9},{"c":0,"r":1,"s":"0.4","t":3.02,"x":1.11},{"c":0,"r":1,"s":"0.4","t":3.15,"x":1.17},{"c":0,"r":1,"s":"0.4","t":3.36,"x":1.05},{"c":0,"r":1,"s":"0.4","t":3.62,"x":0.93},{"c":0,"r":1,"s":"0.4","t":3.86,"x":1.05},{"c":0,"r":1,"s":"0.4","t":4.1,"x":1.17},{"c":0,"r":1,"s":"0.4","t":4.36,"x":1.05},{"c":0,"r":1,"s":"0.4","t":4.62,"x":0.93},{"c":0,"r":1,"s":"0.4","t":4.86,"x":1.05},{"c":0,"r":1,"s":"0.4","t":5,"x":1.15},
{"c":0,"r":1,"s":"0.35","t":1,"x":-0.88},{"c":0,"r":1,"s":"0.35","t":1.25,"x":-0.99},{"c":0,"r":1,"s":"0.35","t":1.55,"x":-1.05},{"c":0,"r":1,"s":"0.35","t":1.8,"x":-0.67},{"c":0,"r":1,"s":"0.35","t":2.04,"x":-0.17},{"c":0,"r":1,"s":"0.35","t":2.2,"x":0.06},{"c":0,"r":1,"s":"0.35","t":2.41,"x":0.21},{"c":0,"r":1,"s":"0.35","t":2.64,"x":0.51},{"c":0,"r":1,"s":"0.35","t":2.83,"x":0.81},{"c":0,"r":1,"s":"0.35","t":3.09,"x":1.07},{"c":0,"r":1,"s":"0.35","t":3.3,"x":1.1},{"c":0,"r":1,"s":"0.35","t":3.45,"x":1.0},{"c":0,"r":1,"s":"0.35","t":3.62,"x":0.93},{"c":0,"r":1,"s":"0.35","t":3.86,"x":1.05},{"c":0,"r":1,"s":"0.35","t":4.1,"x":1.17},{"c":0,"r":1,"s":"0.35","t":4.36,"x":1.05},{"c":0,"r":1,"s":"0.35","t":4.62,"x":0.93},{"c":0,"r":1,"s":"0.35","t":4.86,"x":1.05},{"c":0,"r":1,"s":"0.35","t":5,"x":1.15},
{"c":0,"r":1,"s":"0.3","t":1,"x":-0.88},{"c":0,"r":1,"s":"0.3","t":1.25,"x":-0.98},{"c":0,"r":1,"s":"0.3","t":1.55,"x":-1.05},{"c":0,"r":1,"s":"0.3","t":1.8,"x":-0.68},{"c":0,"r":1,"s":"0.3","t":2.04,"x":-0.19},{"c":0,"r":1,"s":"0.3","t":2.2,"x":0.03},{"c":0,"r":1,"s":"0.3","t":2.45,"x":0.08},{"c":0,"r":1,"s":"0.3","t":2.68,"x":0.34},{"c":0,"r":1,"s":"0.3","t":2.9,"x":0.68},{"c":0,"r":1,"s":"0.3","t":3.17,"x":0.96},{"c":0,"r":1,"s":"0.3","t":3.4,"x":1.01},{"c":0,"r":1,"s":"0.3","t":3.62,"x":0.93},{"c":0,"r":1,"s":"0.3","t":3.86,"x":1.05},{"c":0,"r":1,"s":"0.3","t":4.1,"x":1.17},{"c":0,"r":1,"s":"0.3","t":4.36,"x":1.05},{"c":0,"r":1,"s":"0.3","t":4.62,"x":0.93},{"c":0,"r":1,"s":"0.3","t":4.86,"x":1.05},{"c":0,"r":1,"s":"0.3","t":5,"x":1.15},
{"c":0,"r":1,"s":"0.25","t":1,"x":-0.87},{"c":0,"r":1,"s":"0.25","t":1.25,"x":-0.98},{"c":0,"r":1,"s":"0.25","t":1.55,"x":-1.05},{"c":0,"r":1,"s":"0.25","t":1.8,"x":-0.69},{"c":0,"r":1,"s":"0.25","t":2.04,"x":-0.21},{"c":0,"r":1,"s":"0.25","t":2.2,"x":0.0},{"c":0,"r":1,"s":"0.25","t":2.45,"x":-0.01},{"c":0,"r":1,"s":"0.25","t":2.71,"x":0.16},{"c":0,"r":1,"s":"0.25","t":2.98,"x":0.55},{"c":0,"r":1,"s":"0.25","t":3.28,"x":0.82},{"c":0,"r":1,"s":"0.25","t":3.5,"x":0.9},{"c":0,"r":1,"s":"0.25","t":3.65,"x":0.93},{"c":0,"r":1,"s":"0.25","t":3.86,"x":1.05},{"c":0,"r":1,"s":"0.25","t":4.1,"x":1.17},{"c":0,"r":1,"s":"0.25","t":4.36,"x":1.05},{"c":0,"r":1,"s":"0.25","t":4.62,"x":0.93},{"c":0,"r":1,"s":"0.25","t":4.86,"x":1.05},{"c":0,"r":1,"s":"0.25","t":5,"x":1.15},
{"c":0,"r":1,"s":"0.2","t":1,"x":-0.87},{"c":0,"r":1,"s":"0.2","t":1.25,"x":-0.98},{"c":0,"r":1,"s":"0.2","t":1.55,"x":-1.05},{"c":0,"r":1,"s":"0.2","t":1.8,"x":-0.7},{"c":0,"r":1,"s":"0.2","t":2.04,"x":-0.23},{"c":0,"r":1,"s":"0.2","t":2.2,"x":-0.03},{"c":0,"r":1,"s":"0.2","t":2.49,"x":-0.09},{"c":0,"r":1,"s":"0.2","t":2.75,"x":0.05},{"c":0,"r":1,"s":"0.2","t":3.02,"x":0.34},{"c":0,"r":1,"s":"0.2","t":3.24,"x":0.51},{"c":0,"r":1,"s":"0.2","t":3.47,"x":0.58},{"c":0,"r":1,"s":"0.2","t":3.69,"x":0.8},{"c":0,"r":1,"s":"0.2","t":3.9,"x":1.04},{"c":0,"r":1,"s":"0.2","t":4.1,"x":1.16},{"c":0,"r":1,"s":"0.2","t":4.36,"x":1.05},{"c":0,"r":1,"s":"0.2","t":4.62,"x":0.93},{"c":0,"r":1,"s":"0.2","t":4.86,"x":1.05},{"c":0,"r":1,"s":"0.2","t":5,"x":1.15},
{"c":0,"r":1,"s":"0.15","t":1,"x":-0.86},{"c":0,"r":1,"s":"0.15","t":1.25,"x":-0.97},{"c":0,"r":1,"s":"0.15","t":1.55,"x":-1.05},{"c":0,"r":1,"s":"0.15","t":1.8,"x":-0.71},{"c":0,"r":1,"s":"0.15","t":2.04,"x":-0.25},{"c":0,"r":1,"s":"0.15","t":2.2,"x":-0.06},{"c":0,"r":1,"s":"0.15","t":2.49,"x":-0.14},{"c":0,"r":1,"s":"0.15","t":2.75,"x":-0.1},{"c":0,"r":1,"s":"0.15","t":3.02,"x":0.12},{"c":0,"r":1,"s":"0.15","t":3.32,"x":0.45},{"c":0,"r":1,"s":"0.15","t":3.54,"x":0.52},{"c":0,"r":1,"s":"0.15","t":3.84,"x":0.8},{"c":0,"r":1,"s":"0.15","t":4.07,"x":1.06},{"c":0,"r":1,"s":"0.15","t":4.22,"x":1.13},{"c":0,"r":1,"s":"0.15","t":4.4,"x":1.04},{"c":0,"r":1,"s":"0.15","t":4.62,"x":0.93},{"c":0,"r":1,"s":"0.15","t":4.86,"x":1.05},{"c":0,"r":1,"s":"0.15","t":5,"x":1.15},
{"c":0,"r":1,"s":"0.1","t":1,"x":-0.86},{"c":0,"r":1,"s":"0.1","t":1.25,"x":-0.97},{"c":0,"r":1,"s":"0.1","t":1.55,"x":-1.05},{"c":0,"r":1,"s":"0.1","t":1.8,"x":-0.72},{"c":0,"r":1,"s":"0.1","t":2.04,"x":-0.27},{"c":0,"r":1,"s":"0.1","t":2.2,"x":-0.09},{"c":0,"r":1,"s":"0.1","t":2.49,"x":-0.18},{"c":0,"r":1,"s":"0.1","t":2.79,"x":-0.22},{"c":0,"r":1,"s":"0.1","t":3.09,"x":-0.02},{"c":0,"r":1,"s":"0.1","t":3.32,"x":0.21},{"c":0,"r":1,"s":"0.1","t":3.54,"x":0.27},{"c":0,"r":1,"s":"0.1","t":3.77,"x":0.45},{"c":0,"r":1,"s":"0.1","t":3.99,"x":0.75},{"c":0,"r":1,"s":"0.1","t":4.22,"x":0.98},{"c":0,"r":1,"s":"0.1","t":4.44,"x":1.02},{"c":0,"r":1,"s":"0.1","t":4.62,"x":0.93},{"c":0,"r":1,"s":"0.1","t":4.86,"x":1.05},{"c":0,"r":1,"s":"0.1","t":5,"x":1.15},

{"c":1,"r":1,"s":"u","t":1,"x":1.22},{"c":1,"r":1,"s":"u","t":1.1,"x":1.24},{"c":1,"r":1,"s":"u","t":1.4,"x":1.04},{"c":1,"r":1,"s":"u","t":1.67,"x":0.84},{"c":1,"r":1,"s":"u","t":1.88,"x":1.04},{"c":1,"r":1,"s":"u","t":2.1,"x":1.24},{"c":1,"r":1,"s":"u","t":2.4,"x":1.04},{"c":1,"r":1,"s":"u","t":2.67,"x":0.84},{"c":1,"r":1,"s":"u","t":2.88,"x":1.04},{"c":1,"r":1,"s":"u","t":3.1,"x":1.24},{"c":1,"r":1,"s":"u","t":3.4,"x":1.04},{"c":1,"r":1,"s":"u","t":3.67,"x":0.84},{"c":1,"r":1,"s":"u","t":3.88,"x":1.04},{"c":1,"r":1,"s":"u","t":4.1,"x":1.24},{"c":1,"r":1,"s":"u","t":4.4,"x":1.04},{"c":1,"r":1,"s":"u","t":4.67,"x":0.84},{"c":1,"r":1,"s":"u","t":4.88,"x":1.04},{"c":1,"r":1,"s":"u","t":5,"x":1.2},
{"c":1,"r":1,"s":"l","t":1,"x":-0.79},{"c":1,"r":1,"s":"l","t":1.17,"x":-0.66},{"c":1,"r":1,"s":"l","t":1.38,"x":-0.89},{"c":1,"r":1,"s":"l","t":1.6,"x":-1.12},{"c":1,"r":1,"s":"l","t":1.88,"x":-0.89},{"c":1,"r":1,"s":"l","t":2.17,"x":-0.66},{"c":1,"r":1,"s":"l","t":2.38,"x":-0.89},{"c":1,"r":1,"s":"l","t":2.6,"x":-1.12},{"c":1,"r":1,"s":"l","t":2.88,"x":-0.89},{"c":1,"r":1,"s":"l","t":3.17,"x":-0.66},{"c":1,"r":1,"s":"l","t":3.38,"x":-0.89},{"c":1,"r":1,"s":"l","t":3.6,"x":-1.12},{"c":1,"r":1,"s":"l","t":3.88,"x":-0.89},{"c":1,"r":1,"s":"l","t":4.17,"x":-0.66},{"c":1,"r":1,"s":"l","t":4.38,"x":-0.89},{"c":1,"r":1,"s":"l","t":4.6,"x":-1.12},{"c":1,"r":1,"s":"l","t":4.88,"x":-0.89},{"c":1,"r":1,"s":"l","t":5,"x":-0.79},
{"c":1,"r":1,"s":"d","t":1,"x":-0.21},{"c":1,"r":1,"s":"d","t":1.07,"x":-0.1},{"c":1,"r":1,"s":"d","t":1.32,"x":0.16},{"c":1,"r":1,"s":"d","t":1.57,"x":-0.1},{"c":1,"r":1,"s":"d","t":1.82,"x":-0.36},{"c":1,"r":1,"s":"d","t":2.07,"x":-0.1},{"c":1,"r":1,"s":"d","t":2.32,"x":0.16},{"c":1,"r":1,"s":"d","t":2.57,"x":-0.1},{"c":1,"r":1,"s":"d","t":2.82,"x":-0.36},{"c":1,"r":1,"s":"d","t":3.07,"x":-0.1},{"c":1,"r":1,"s":"d","t":3.32,"x":0.16},{"c":1,"r":1,"s":"d","t":3.57,"x":-0.1},{"c":1,"r":1,"s":"d","t":3.82,"x":-0.36},{"c":1,"r":1,"s":"d","t":4.07,"x":-0.1},{"c":1,"r":1,"s":"d","t":4.32,"x":0.16},{"c":1,"r":1,"s":"d","t":4.57,"x":-0.1},{"c":1,"r":1,"s":"d","t":4.82,"x":-0.36},{"c":1,"r":1,"s":"d","t":5,"x":-0.21},
{"c":1,"r":1,"s":"b0","i":0,"t":1,"x":1.28},{"c":1,"r":1,"s":"b0","i":1,"t":1.15,"x":1.22},{"c":1,"r":1,"s":"b0","i":2,"t":1.27,"x":1.02},{"c":1,"r":1,"s":"b0","i":3,"t":1.33,"x":0.7},{"c":1,"r":1,"s":"b0","i":4,"t":1.35,"x":0.3},{"c":1,"r":1,"s":"b0","i":5,"t":1.32,"x":-0.12},{"c":1,"r":1,"s":"b0","i":6,"t":1.26,"x":-0.56},{"c":1,"r":1,"s":"b0","i":7,"t":1.22,"x":-0.88},{"c":1,"r":1,"s":"b0","i":8,"t":1.3,"x":-1.14},{"c":1,"r":1,"s":"b0","i":9,"t":1.47,"x":-1.22},{"c":1,"r":1,"s":"b0","i":10,"t":1.64,"x":-1.15},{"c":1,"r":1,"s":"b0","i":11,"t":1.74,"x":-0.92},{"c":1,"r":1,"s":"b0","i":12,"t":1.78,"x":-0.56},{"c":1,"r":1,"s":"b0","i":13,"t":1.76,"x":-0.12},{"c":1,"r":1,"s":"b0","i":14,"t":1.71,"x":0.32},{"c":1,"r":1,"s":"b0","i":15,"t":1.68,"x":0.74},{"c":1,"r":1,"s":"b0","i":16,"t":1.74,"x":1.08},{"c":1,"r":1,"s":"b0","i":17,"t":1.85,"x":1.25},
{"c":1,"r":1,"s":"b0","i":18,"t":2,"x":1.28},{"c":1,"r":1,"s":"b0","i":19,"t":2.15,"x":1.22},{"c":1,"r":1,"s":"b0","i":20,"t":2.27,"x":1.02},{"c":1,"r":1,"s":"b0","i":21,"t":2.33,"x":0.7},{"c":1,"r":1,"s":"b0","i":22,"t":2.35,"x":0.3},{"c":1,"r":1,"s":"b0","i":23,"t":2.32,"x":-0.12},{"c":1,"r":1,"s":"b0","i":24,"t":2.26,"x":-0.56},{"c":1,"r":1,"s":"b0","i":25,"t":2.22,"x":-0.88},{"c":1,"r":1,"s":"b0","i":26,"t":2.3,"x":-1.14},{"c":1,"r":1,"s":"b0","i":27,"t":2.47,"x":-1.22},{"c":1,"r":1,"s":"b0","i":28,"t":2.64,"x":-1.15},{"c":1,"r":1,"s":"b0","i":29,"t":2.74,"x":-0.92},{"c":1,"r":1,"s":"b0","i":30,"t":2.78,"x":-0.56},{"c":1,"r":1,"s":"b0","i":31,"t":2.76,"x":-0.12},{"c":1,"r":1,"s":"b0","i":32,"t":2.71,"x":0.32},{"c":1,"r":1,"s":"b0","i":33,"t":2.68,"x":0.74},{"c":1,"r":1,"s":"b0","i":34,"t":2.74,"x":1.08},{"c":1,"r":1,"s":"b0","i":35,"t":2.85,"x":1.25},
{"c":1,"r":1,"s":"b0","i":36,"t":3,"x":1.28},{"c":1,"r":1,"s":"b0","i":37,"t":3.15,"x":1.22},{"c":1,"r":1,"s":"b0","i":38,"t":3.27,"x":1.02},{"c":1,"r":1,"s":"b0","i":39,"t":3.33,"x":0.7},{"c":1,"r":1,"s":"b0","i":40,"t":3.35,"x":0.3},{"c":1,"r":1,"s":"b0","i":41,"t":3.32,"x":-0.12},{"c":1,"r":1,"s":"b0","i":42,"t":3.26,"x":-0.56},{"c":1,"r":1,"s":"b0","i":43,"t":3.22,"x":-0.88},{"c":1,"r":1,"s":"b0","i":44,"t":3.3,"x":-1.14},{"c":1,"r":1,"s":"b0","i":45,"t":3.47,"x":-1.22},{"c":1,"r":1,"s":"b0","i":46,"t":3.64,"x":-1.15},{"c":1,"r":1,"s":"b0","i":47,"t":3.74,"x":-0.92},{"c":1,"r":1,"s":"b0","i":48,"t":3.78,"x":-0.56},{"c":1,"r":1,"s":"b0","i":49,"t":3.76,"x":-0.12},{"c":1,"r":1,"s":"b0","i":50,"t":3.71,"x":0.32},{"c":1,"r":1,"s":"b0","i":51,"t":3.68,"x":0.74},{"c":1,"r":1,"s":"b0","i":52,"t":3.74,"x":1.08},{"c":1,"r":1,"s":"b0","i":53,"t":3.85,"x":1.25},
{"c":1,"r":1,"s":"b0","i":54,"t":4,"x":1.28},{"c":1,"r":1,"s":"b0","i":55,"t":4.15,"x":1.22},{"c":1,"r":1,"s":"b0","i":56,"t":4.27,"x":1.02},{"c":1,"r":1,"s":"b0","i":57,"t":4.33,"x":0.7},{"c":1,"r":1,"s":"b0","i":58,"t":4.35,"x":0.3},{"c":1,"r":1,"s":"b0","i":59,"t":4.32,"x":-0.12},{"c":1,"r":1,"s":"b0","i":60,"t":4.26,"x":-0.56},{"c":1,"r":1,"s":"b0","i":61,"t":4.22,"x":-0.88},{"c":1,"r":1,"s":"b0","i":62,"t":4.3,"x":-1.14},{"c":1,"r":1,"s":"b0","i":63,"t":4.47,"x":-1.22},{"c":1,"r":1,"s":"b0","i":64,"t":4.64,"x":-1.15},{"c":1,"r":1,"s":"b0","i":65,"t":4.74,"x":-0.92},{"c":1,"r":1,"s":"b0","i":66,"t":4.78,"x":-0.56},{"c":1,"r":1,"s":"b0","i":67,"t":4.76,"x":-0.12},{"c":1,"r":1,"s":"b0","i":68,"t":4.71,"x":0.32},{"c":1,"r":1,"s":"b0","i":69,"t":4.68,"x":0.74},{"c":1,"r":1,"s":"b0","i":70,"t":4.74,"x":1.08},{"c":1,"r":1,"s":"b0","i":71,"t":4.85,"x":1.25},{"c":1,"r":1,"s":"b0","i":72,"t":5,"x":1.28},
{"c":1,"r":1,"s":"0.4","t":1,"x":-0.83},{"c":1,"r":1,"s":"0.4","t":1.25,"x":-1.0},{"c":1,"r":1,"s":"0.4","t":1.55,"x":-1.11},{"c":1,"r":1,"s":"0.4","t":1.73,"x":-0.85},{"c":1,"r":1,"s":"0.4","t":1.96,"x":-0.3},{"c":1,"r":1,"s":"0.4","t":2.15,"x":0.14},{"c":1,"r":1,"s":"0.4","t":2.3,"x":0.34},{"c":1,"r":1,"s":"0.4","t":2.45,"x":0.38},{"c":1,"r":1,"s":"0.4","t":2.6,"x":0.42},{"c":1,"r":1,"s":"0.4","t":2.75,"x":0.62},{"c":1,"r":1,"s":"0.4","t":2.93,"x":0.94},{"c":1,"r":1,"s":"0.4","t":3.12,"x":1.2},{"c":1,"r":1,"s":"0.4","t":3.4,"x":1.03},{"c":1,"r":1,"s":"0.4","t":3.67,"x":0.83},{"c":1,"r":1,"s":"0.4","t":3.88,"x":1.03},{"c":1,"r":1,"s":"0.4","t":4.1,"x":1.23},{"c":1,"r":1,"s":"0.4","t":4.4,"x":1.03},{"c":1,"r":1,"s":"0.4","t":4.67,"x":0.83},{"c":1,"r":1,"s":"0.4","t":4.88,"x":1.03},{"c":1,"r":1,"s":"0.4","t":5,"x":1.19},
{"c":1,"r":1,"s":"0.35","t":1,"x":-0.82},{"c":1,"r":1,"s":"0.35","t":1.25,"x":-0.99},{"c":1,"r":1,"s":"0.35","t":1.55,"x":-1.11},{"c":1,"r":1,"s":"0.35","t":1.73,"x":-0.86},{"c":1,"r":1,"s":"0.35","t":1.96,"x":-0.32},{"c":1,"r":1,"s":"0.35","t":2.15,"x":0.11},{"c":1,"r":1,"s":"0.35","t":2.3,"x":0.29},{"c":1,"r":1,"s":"0.35","t":2.45,"x":0.32},{"c":1,"r":1,"s":"0.35","t":2.62,"x":0.33},{"c":1,"r":1,"s":"0.35","t":2.86,"x":0.72},{"c":1,"r":1,"s":"0.35","t":3.04,"x":0.98},{"c":1,"r":1,"s":"0.35","t":3.23,"x":1.16},{"c":1,"r":1,"s":"0.35","t":3.4,"x":1.03},{"c":1,"r":1,"s":"0.35","t":3.67,"x":0.83},{"c":1,"r":1,"s":"0.35","t":3.88,"x":1.03},{"c":1,"r":1,"s":"0.35","t":4.1,"x":1.23},{"c":1,"r":1,"s":"0.35","t":4.4,"x":1.03},{"c":1,"r":1,"s":"0.35","t":4.67,"x":0.83},{"c":1,"r":1,"s":"0.35","t":4.88,"x":1.03},{"c":1,"r":1,"s":"0.35","t":5,"x":1.19},
{"c":1,"r":1,"s":"0.3","t":1,"x":-0.81},{"c":1,"r":1,"s":"0.3","t":1.25,"x":-0.99},{"c":1,"r":1,"s":"0.3","t":1.55,"x":-1.11},{"c":1,"r":1,"s":"0.3","t":1.73,"x":-0.87},{"c":1,"r":1,"s":"0.3","t":1.96,"x":-0.34},{"c":1,"r":1,"s":"0.3","t":2.15,"x":0.09},{"c":1,"r":1,"s":"0.3","t":2.3,"x":0.24},{"c":1,"r":1,"s":"0.3","t":2.45,"x":0.26},{"c":1,"r":1,"s":"0.3","t":2.62,"x":0.22},{"c":1,"r":1,"s":"0.3","t":2.75,"x":0.18},{"c":1,"r":1,"s":"0.3","t":2.9,"x":0.5},{"c":1,"r":1,"s":"0.3","t":3.1,"x":0.85},{"c":1,"r":1,"s":"0.3","t":3.36,"x":1.05},{"c":1,"r":1,"s":"0.3","t":3.5,"x":0.96},{"c":1,"r":1,"s":"0.3","t":3.67,"x":0.83},{"c":1,"r":1,"s":"0.3","t":3.88,"x":1.03},{"c":1,"r":1,"s":"0.3","t":4.1,"x":1.23},{"c":1,"r":1,"s":"0.3","t":4.4,"x":1.03},{"c":1,"r":1,"s":"0.3","t":4.67,"x":0.83},{"c":1,"r":1,"s":"0.3","t":4.88,"x":1.03},{"c":1,"r":1,"s":"0.3","t":5,"x":1.19},
{"c":1,"r":1,"s":"0.25","t":1,"x":-0.8},{"c":1,"r":1,"s":"0.25","t":1.25,"x":-0.98},{"c":1,"r":1,"s":"0.25","t":1.55,"x":-1.11},{"c":1,"r":1,"s":"0.25","t":1.73,"x":-0.87},{"c":1,"r":1,"s":"0.25","t":1.96,"x":-0.35},{"c":1,"r":1,"s":"0.25","t":2.15,"x":0.07},{"c":1,"r":1,"s":"0.25","t":2.3,"x":0.19},{"c":1,"r":1,"s":"0.25","t":2.45,"x":0.2},{"c":1,"r":1,"s":"0.25","t":2.62,"x":0.12},{"c":1,"r":1,"s":"0.25","t":2.74,"x":0.02},{"c":1,"r":1,"s":"0.25","t":2.92,"x":0.35},{"c":1,"r":1,"s":"0.25","t":3.2,"x":0.72},{"c":1,"r":1,"s":"0.25","t":3.4,"x":0.82},{"c":1,"r":1,"s":"0.25","t":3.55,"x":0.85},{"c":1,"r":1,"s":"0.25","t":3.67,"x":0.83},{"c":1,"r":1,"s":"0.25","t":3.88,"x":1.03},{"c":1,"r":1,"s":"0.25","t":4.1,"x":1.23},{"c":1,"r":1,"s":"0.25","t":4.4,"x":1.03},{"c":1,"r":1,"s":"0.25","t":4.67,"x":0.83},{"c":1,"r":1,"s":"0.25","t":4.88,"x":1.03},{"c":1,"r":1,"s":"0.25","t":5,"x":1.19},
{"c":1,"r":1,"s":"0.2","t":1,"x":-0.79},{"c":1,"r":1,"s":"0.2","t":1.25,"x":-0.98},{"c":1,"r":1,"s":"0.2","t":1.55,"x":-1.11},{"c":1,"r":1,"s":"0.2","t":1.73,"x":-0.88},{"c":1,"r":1,"s":"0.2","t":1.96,"x":-0.36},{"c":1,"r":1,"s":"0.2","t":2.15,"x":0.05},{"c":1,"r":1,"s":"0.2","t":2.3,"x":0.15},{"c":1,"r":1,"s":"0.2","t":2.45,"x":0.14},{"c":1,"r":1,"s":"0.2","t":2.62,"x":0.02},{"c":1,"r":1,"s":"0.2","t":2.76,"x":-0.15},{"c":1,"r":1,"s":"0.2","t":2.9,"x":0.06},{"c":1,"r":1,"s":"0.2","t":3.04,"x":0.34},{"c":1,"r":1,"s":"0.2","t":3.31,"x":0.6},{"c":1,"r":1,"s":"0.2","t":3.53,"x":0.68},{"c":1,"r":1,"s":"0.2","t":3.76,"x":0.9},{"c":1,"r":1,"s":"0.2","t":4,"x":1.17},{"c":1,"r":1,"s":"0.2","t":4.1,"x":1.23},{"c":1,"r":1,"s":"0.2","t":4.4,"x":1.03},{"c":1,"r":1,"s":"0.2","t":4.67,"x":0.83},{"c":1,"r":1,"s":"0.2","t":4.88,"x":1.03},{"c":1,"r":1,"s":"0.2","t":5,"x":1.19},
{"c":1,"r":1,"s":"0.15","t":1,"x":-0.78},{"c":1,"r":1,"s":"0.15","t":1.25,"x":-0.97},{"c":1,"r":1,"s":"0.15","t":1.55,"x":-1.11},{"c":1,"r":1,"s":"0.15","t":1.73,"x":-0.88},{"c":1,"r":1,"s":"0.15","t":1.96,"x":-0.37},{"c":1,"r":1,"s":"0.15","t":2.15,"x":0.03},{"c":1,"r":1,"s":"0.15","t":2.3,"x":0.11},{"c":1,"r":1,"s":"0.15","t":2.45,"x":0.08},{"c":1,"r":1,"s":"0.15","t":2.62,"x":-0.05},{"c":1,"r":1,"s":"0.15","t":2.79,"x":-0.27},{"c":1,"r":1,"s":"0.15","t":2.95,"x":-0.05},{"c":1,"r":1,"s":"0.15","t":3.08,"x":0.12},{"c":1,"r":1,"s":"0.15","t":3.31,"x":0.42},{"c":1,"r":1,"s":"0.15","t":3.49,"x":0.53},{"c":1,"r":1,"s":"0.15","t":3.72,"x":0.55},{"c":1,"r":1,"s":"0.15","t":3.9,"x":0.81},{"c":1,"r":1,"s":"0.15","t":4.13,"x":1.1},{"c":1,"r":1,"s":"0.15","t":4.25,"x":1.15},{"c":1,"r":1,"s":"0.15","t":4.4,"x":1.03},{"c":1,"r":1,"s":"0.15","t":4.67,"x":0.83},{"c":1,"r":1,"s":"0.15","t":4.88,"x":1.03},{"c":1,"r":1,"s":"0.15","t":5,"x":1.19},
{"c":1,"r":1,"s":"0.1","t":1,"x":-0.77},{"c":1,"r":1,"s":"0.1","t":1.25,"x":-0.97},{"c":1,"r":1,"s":"0.1","t":1.55,"x":-1.11},{"c":1,"r":1,"s":"0.1","t":1.73,"x":-0.89},{"c":1,"r":1,"s":"0.1","t":1.96,"x":-0.38},{"c":1,"r":1,"s":"0.1","t":2.15,"x":0.01},{"c":1,"r":1,"s":"0.1","t":2.3,"x":0.06},{"c":1,"r":1,"s":"0.1","t":2.45,"x":0.03},{"c":1,"r":1,"s":"0.1","t":2.62,"x":-0.1},{"c":1,"r":1,"s":"0.1","t":2.82,"x":-0.35},{"c":1,"r":1,"s":"0.1","t":3.08,"x":-0.09},{"c":1,"r":1,"s":"0.1","t":3.31,"x":0.21},{"c":1,"r":1,"s":"0.1","t":3.49,"x":0.34},{"c":1,"r":1,"s":"0.1","t":3.72,"x":0.34},{"c":1,"r":1,"s":"0.1","t":3.9,"x":0.51},{"c":1,"r":1,"s":"0.1","t":4.13,"x":0.81},{"c":1,"r":1,"s":"0.1","t":4.36,"x":1.03},{"c":1,"r":1,"s":"0.1","t":4.5,"x":0.95},{"c":1,"r":1,"s":"0.1","t":4.67,"x":0.83},{"c":1,"r":1,"s":"0.1","t":4.88,"x":1.03},{"c":1,"r":1,"s":"0.1","t":5,"x":1.19}
]},
"facet":{
 "column":{"field":"c","type":"nominal","title":null,"header":{"labelExpr":"datum.value == 0 ? 'A = 0.4' : 'A = 0.7'","labelFont":"Liberation Serif","labelFontSize":17,"labelPadding":1,"labelColor":"#111"}},
 "row":{"field":"r","type":"nominal","title":null,"header":{"labelExpr":"datum.value == 0 ? 'ε = 0.25' : 'ε = 0.4'","labelFont":"Liberation Serif","labelFontSize":16,"labelAngle":-90,"labelPadding":0,"labelColor":"#111"}}
},
"spacing":{"row":13,"column":5},
"spec":{
 "width":177,"height":114,
 "encoding":{
  "x":{"field":"t","type":"quantitative","scale":{"domain":[1,5],"nice":false,"zero":false},"axis":{"values":[1,2,3,4,5],"title":"t","format":"d"}},
  "y":{"field":"x","type":"quantitative","scale":{"domain":[-1.5,1.5],"nice":false},"axis":{"values":[-1.5,-1,-0.5,0,0.5,1,1.5],"title":"x(t)"}}
 },
 "layer":[
  {"transform":[{"filter":"datum.s == 'u' || datum.s == 'l'"}],"mark":{"type":"line","interpolate":"monotone","color":"#111","strokeWidth":1,"clip":true},"encoding":{"detail":{"field":"s","type":"nominal"}}},
  {"transform":[{"filter":"datum.s == 'd'"}],"mark":{"type":"line","interpolate":"monotone","color":"#222","strokeWidth":1,"strokeDash":[1.5,1.5],"clip":true},"encoding":{}},
  {"transform":[{"filter":"indexof(datum.s, '0.') == 0"}],"mark":{"type":"line","interpolate":"monotone","strokeWidth":1,"clip":true},"encoding":{"color":{"field":"s","type":"nominal","scale":{"domain":["0.1","0.15","0.2","0.25","0.3","0.35","0.4"],"range":["#5cc6f2","#1f8f1f","#ff1f1f","#1fc2c2","#e03ce0","#c4c41c","#ff6a1f"]},"legend":{"title":null,"orient":"none","legendX":313,"legendY":188,"labelExpr":"'σ = ' + datum.label","symbolType":"stroke","symbolStrokeWidth":1.5,"symbolSize":56,"labelFont":"Liberation Serif","labelFontSize":7.5,"rowPadding":0,"padding":2,"fillColor":"white","strokeColor":"#999","labelOffset":2,"labelColor":"#111"}}}},
  {"transform":[{"filter":"indexof(datum.s, 'b') == 0"}],"mark":{"type":"line","interpolate":"catmull-rom","color":"#2f2fff","strokeWidth":1,"clip":true},"encoding":{"detail":{"field":"s","type":"nominal"},"order":{"field":"i","type":"quantitative"}}}
 ]
},
"config":{
 "view":{"stroke":"#999","strokeWidth":0.8},
 "axis":{"grid":false,"domain":false,"ticks":false,"labelFont":"Liberation Sans","labelFontSize":7,"labelColor":"#222","labelPadding":1,"titleFont":"Liberation Serif","titleFontStyle":"italic","titleFontWeight":"normal","titleFontSize":9,"titleColor":"#222"},
 "axisX":{"titlePadding":0,"labelPadding":1},
 "axisY":{"titlePadding":1}
}
}
